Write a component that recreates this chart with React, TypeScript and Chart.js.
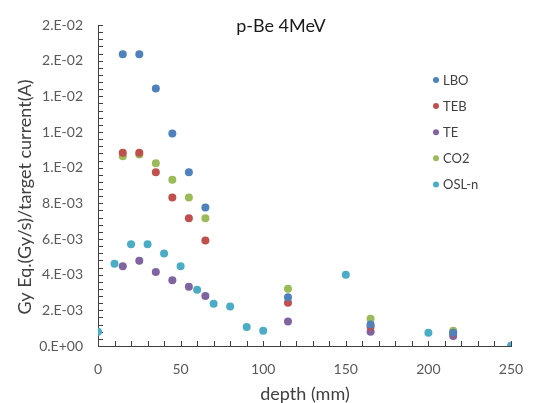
import React, { useEffect, useRef } from "react";
import { Chart, registerables } from "chart.js";

Chart.register(...registerables);

const title = "p-Be 4MeV";
const xTitle = "depth (mm)";
const yTitle = "Gy Eq.(Gy/s)/target current(A)";

const seriesNames = ["LBO", "TEB", "TE", "CO2", "OSL-n"];
const seriesColors = ["#4F81BD", "#C0504D", "#8064A2", "#9BBB59", "#4BACC6"];

const depthMain = [15, 25, 35, 45, 55, 65, 115, 165, 215];
const lboValues = [0.01636, 0.01636, 0.01444, 0.01192, 0.00975, 0.00777, 0.00273, 0.0012, 0.00075];
const tebValues = [0.01083, 0.01083, 0.00975, 0.00833, 0.00717, 0.00592, 0.00243, 0.00108, 0.0007];
const teValues = [0.00447, 0.00478, 0.00415, 0.00368, 0.00332, 0.0028, 0.00138, 0.0008, 0.00056];
const co2Values = [0.01064, 0.01074, 0.01025, 0.00932, 0.00833, 0.00716, 0.00321, 0.00153, 0.00086];

const depthOsl = [0, 10, 20, 30, 40, 50, 60, 70, 80, 90, 100, 150, 200, 250];
const oslValues = [0.0008, 0.00461, 0.00571, 0.00571, 0.00519, 0.00447, 0.00315, 0.00237, 0.00222, 0.00106, 0.00086, 0.004, 0.00075, 0.00002];

const xTickLabels = ["0", "50", "100", "150", "200", "250"];
const yTickLabels = ["0.E+00", "2.E-03", "4.E-03", "6.E-03", "8.E-03", "1.E-02", "1.E-02", "1.E-02", "2.E-02", "2.E-02"];

const FONT = "Lato, 'Open Sans', sans-serif";

function pts(xs: number[], ys: number[]) {
  return xs.map((x, i) => ({ x, y: ys[i] }));
}

const overlayPlugin = {
  id: "overlay",
  beforeDatasetsDraw(chart: any) {
    const ctx = chart.ctx as CanvasRenderingContext2D;
    const xs = chart.scales.x;
    const ys = chart.scales.y;
    const left = Math.round(xs.left);
    const bottom = Math.round(ys.bottom);
    ctx.save();
    ctx.fillStyle = "#404040";
    for (let k = 0; k <= 25; k++) {
      const px = Math.round(xs.getPixelForValue(k * 10));
      ctx.fillRect(px, bottom - 5, 1, 5);
    }
    for (let k = 0; k <= 45; k++) {
      const py = Math.round(ys.getPixelForValue(k * 0.0004));
      ctx.fillRect(left, py, 5, 1);
    }
    ctx.restore();
  },
  afterDraw(chart: any) {
    const ctx = chart.ctx as CanvasRenderingContext2D;
    ctx.save();
    ctx.fillStyle = "#1a1a1a";
    ctx.font = `18px ${FONT}`;
    ctx.textAlign = "center";
    ctx.textBaseline = "middle";
    ctx.fillText(title, 281, 26);

    ctx.fillStyle = "#404040";
    ctx.font = `18px ${FONT}`;
    ctx.fillText(xTitle, 305, 394);
    ctx.save();
    ctx.translate(25, 197);
    ctx.rotate(-Math.PI / 2);
    ctx.fillText(yTitle, 0, 0);
    ctx.restore();

    ctx.font = `13px ${FONT}`;
    ctx.textAlign = "left";
    chart.data.datasets.forEach((ds: any, i: number) => {
      const y = 80 + i * 26.1;
      ctx.fillStyle = ds.backgroundColor;
      ctx.beginPath();
      ctx.arc(436, y, 3, 0, Math.PI * 2);
      ctx.fill();
      ctx.fillStyle = "#404040";
      ctx.fillText(ds.label, 443, y + 0.5);
    });
    ctx.restore();
  },
};

export default function App() {
  const ref = useRef<HTMLCanvasElement | null>(null);
  useEffect(() => {
    document.body.style.margin = "0";
    if (!ref.current) return;
    const allValues = [lboValues, tebValues, teValues, co2Values];
    const datasets = seriesNames.map((name, i) => ({
      label: name,
      data: i < 4 ? pts(depthMain, allValues[i]) : pts(depthOsl, oslValues),
      backgroundColor: seriesColors[i],
      borderColor: seriesColors[i],
      pointRadius: 4,
      pointBorderWidth: 0,
      showLine: false,
    }));
    const chart = new Chart(ref.current, {
      type: "scatter",
      data: { datasets },
      plugins: [overlayPlugin],
      options: {
        responsive: false,
        animation: false,
        layout: { padding: { left: 0, right: 22, top: 25, bottom: 0 } },
        plugins: { legend: { display: false }, tooltip: { enabled: false }, title: { display: false } },
        scales: {
          x: {
            type: "linear",
            min: 0,
            max: 250,
            afterFit: (s: any) => { s.height = 403 - 346; s.paddingLeft = 0; s.paddingRight = 0; },
            ticks: {
              stepSize: 50,
              padding: 15,
              maxRotation: 0,
              color: "#595959",
              font: { family: FONT, size: 14 },
              callback: (_v: any, i: number) => xTickLabels[i],
            },
            grid: { display: false, drawTicks: false },
            border: { display: true, color: "#404040", width: 1 },
          },
          y: {
            type: "linear",
            min: 0,
            max: 0.018,
            afterFit: (s: any) => { s.width = 98; s.paddingTop = 0; s.paddingBottom = 0; },
            ticks: {
              stepSize: 0.002,
              padding: 15,
              color: "#595959",
              font: { family: FONT, size: 14 },
              callback: (_v: any, i: number) => yTickLabels[i],
            },
            grid: { display: false, drawTicks: false },
            border: { display: true, color: "#404040", width: 1 },
          },
        },
      },
    });
    return () => chart.destroy();
  }, []);
  return <canvas ref={ref} width={533} height={403} style={{ display: "block" }} />;
}
